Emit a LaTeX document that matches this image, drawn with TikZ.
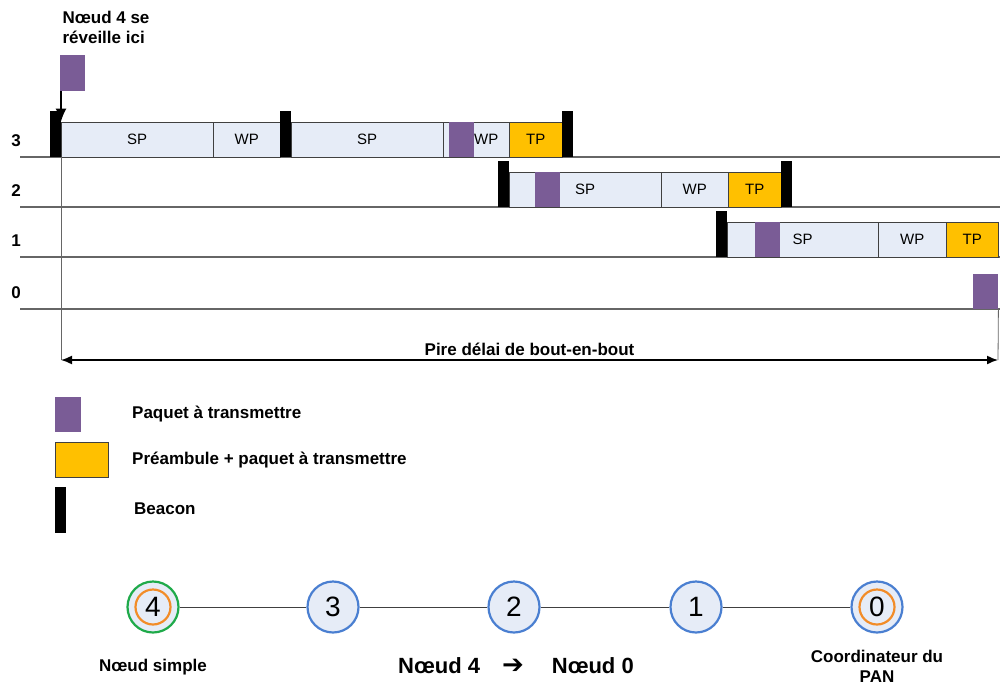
\documentclass[tikz,border=0pt]{standalone}
\usepackage{fontspec}
\setmainfont{Liberation Sans}
\setsansfont{Liberation Sans}
\newfontfamily\symbfont{DejaVu Sans}
\usepackage{tikz}
\usetikzlibrary{arrows.meta, positioning}
\tikzset{every node/.style={font=\sffamily}}
\usepackage{xcolor}
\definecolor{violetpk}{HTML}{7A5C96}
\definecolor{orangetp}{HTML}{FFC000}
\definecolor{bleuper}{HTML}{E6ECF7}
\definecolor{bleund}{HTML}{4A7FD1}
\definecolor{vertnd}{HTML}{1FAA4A}
\definecolor{orangend}{HTML}{F28C28}

\begin{document}
\begin{tikzpicture}[x=1pt, y=-1pt,
    periode/.style={draw=black!75, fill=bleuper, inner sep=0pt, minimum height=35pt, anchor=south west, font=\sffamily\fontsize{15}{18}\selectfont},
    preamb/.style={periode, fill=orangetp},
    paquet/.style={fill=violetpk, inner sep=0pt, minimum width=25pt, minimum height=35pt, anchor=south west},
    beacon/.style={fill=black, inner sep=0pt, minimum width=11pt, minimum height=46pt, anchor=south west},
    ligne/.style={draw=black!60, line width=1.1pt},
    gras/.style={font=\sffamily\bfseries\fontsize{17}{20}\selectfont, inner sep=1pt},
    noeud/.style={circle, draw=bleund, line width=2.2pt, fill=bleuper, minimum size=51pt, inner sep=0pt, font=\sffamily\fontsize{28}{30}\selectfont},
    anneau/.style={draw=orangend, line width=2.2pt}]
  \useasboundingbox (0,0) rectangle (1000,686);

  % niveaux
  \foreach \y/\niv in {157/3, 207/2, 257/1, 309/0} {
    \draw[ligne] (20,\y) -- (1000,\y);
    \node[gras] at (16,{\y-16}) {\niv};
  }

  % niveau 3
  \node[beacon] (b3a) at (50,157) {};
  \node[periode, minimum width=152pt] (sp3a) at (61,157) {SP};
  \node[periode, minimum width=67pt] (wp3a) at (213,157) {WP};
  \node[beacon] (b3b) at (280,157) {};
  \node[periode, minimum width=152pt] (sp3b) at (291,157) {SP};
  \node[periode, minimum width=66pt] (wp3b) at (443,157) {\hspace{20pt}WP};
  \node[paquet] (pk3) at (449,157) {};
  \node[preamb, minimum width=53pt] (tp3) at (509,157) {TP};
  \node[beacon] (b3c) at (562,157) {};

  % niveau 2
  \node[beacon] (b2a) at (498,207) {};
  \node[periode, minimum width=152pt] (sp2) at (509,207) {SP};
  \node[paquet] (pk2) at (535,207) {};
  \node[periode, minimum width=67pt] (wp2) at (661,207) {WP};
  \node[preamb, minimum width=53pt] (tp2) at (728,207) {TP};
  \node[beacon] (b2b) at (781,207) {};

  % niveau 1
  \node[beacon] (b1a) at (716,257) {};
  \node[periode, minimum width=151pt] (sp1) at (727,257) {SP};
  \node[paquet] (pk1) at (755,257) {};
  \node[periode, minimum width=68pt] (wp1) at (878,257) {WP};
  \node[preamb, minimum width=52pt] (tp1) at (946,257) {TP};

  % niveau 0
  \node[paquet] (pk0) at (973,309) {};

  % reveil du noeud 4
  \node[gras, align=left] (reveil) at (106,27) {Nœud 4 se\\réveille ici};
  \node[paquet, anchor=north west, minimum height=36pt] (pkr) at (60,55) {};
  \draw[line width=1.6pt, -{Latex[length=13pt,width=11pt]}] (pkr.south -| sp3a.north west) -- (sp3a.north west);

  % delai
  \coordinate (debut) at (61,360);
  \coordinate (fin) at (998,360);
  \draw[draw=black!60, line width=0.8pt] (sp3a.south west) -- (debut);
  \draw[draw=black!60, line width=0.8pt] (pk0.south east) -- (fin);
  \draw[line width=1.5pt, {Latex[length=11pt,width=9pt]}-{Latex[length=11pt,width=9pt]}] (debut) -- (fin)
    node[gras, midway, above=3pt] (delai) {Pire délai de bout-en-bout};

  % legende
  \node[paquet, anchor=north west, minimum width=26pt] (lgpk) at (55,397) {};
  \node[gras, anchor=west] (lgpktxt) at (131,414) {Paquet à transmettre};
  \node[preamb, anchor=north west, minimum width=53pt] (lgtp) at (55,442) {};
  \node[gras, anchor=west] (lgtptxt) at (131,460) {Préambule + paquet à transmettre};
  \node[beacon, anchor=north west] (lgbc) at (55,487) {};
  \node[gras, anchor=west] (lgbctxt) at (133,509) {Beacon};

  % chemin
  \node[noeud, draw=vertnd] (n4) at (153,607) {4};
  \node[noeud] (n3) at (333,607) {3};
  \node[noeud] (n2) at (514,607) {2};
  \node[noeud] (n1) at (696,607) {1};
  \node[noeud] (n0) at (877,607) {0};
  \draw[anneau] (n4.center) circle (17.5pt);
  \draw[anneau] (n0.center) circle (17.5pt);
  \foreach \a/\b in {n4/n3, n3/n2, n2/n1, n1/n0}
    \draw[draw=black!75, line width=1pt] (\a) -- (\b);

  \node[gras] (lbsimple) at (153,667) {Nœud simple};
  \node[font=\sffamily\bfseries\fontsize{22}{26}\selectfont] (chemin) at (516,666) {Nœud 4\hspace{22pt}{\symbfont\fontsize{26}{26}\selectfont ➔}\hspace{28pt}Nœud 0};
  \node[gras, align=center] (lbcoord) at (877,666) {Coordinateur du\\PAN};
\end{tikzpicture}
\end{document}
